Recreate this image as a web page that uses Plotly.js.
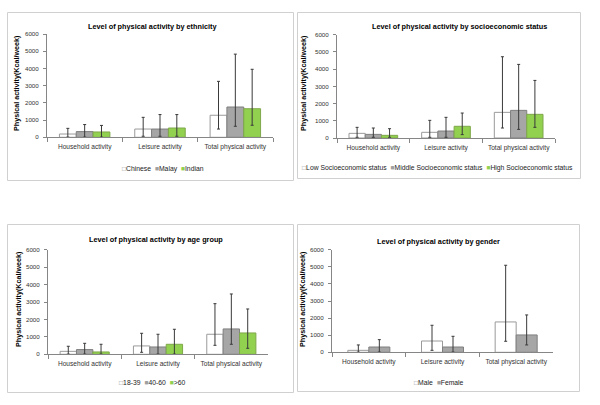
<!DOCTYPE html>
<html><head><meta charset="utf-8">
<script src="https://cdn.plot.ly/plotly-3.0.1.min.js"></script>
<style>html,body{margin:0;padding:0;background:#fff}</style>
</head><body><div id="chart" style="width:600px;height:405px"></div>
<script>
// ---------- data ----------
const categories = ["Household activity", "Leisure activity", "Total physical activity"];

// Panel 1: ethnicity
const ethnicityTitle = "Level of physical activity by ethnicity";
const ethnicityNames = ["Chinese", "Malay", "Indian"];
const chineseMean = [190, 480, 1280];
const chineseHigh = [520, 1160, 3250];
const chineseLow  = [10, 60, 480];
const malayMean = [330, 480, 1760];
const malayHigh = [740, 1320, 4830];
const malayLow  = [10, 60, 640];
const indianMean = [310, 540, 1660];
const indianHigh = [690, 1320, 3950];
const indianLow  = [10, 60, 700];

// Panel 2: socioeconomic status
const sesTitle = "Level of physical activity by socioeconomic status";
const sesNames = ["Low Socioeconomic status", "Middle Socioeconomic status", "High Socioeconomic status"];
const lowSesMean = [270, 330, 1490];
const lowSesHigh = [620, 1025, 4720];
const lowSesLow  = [40, 40, 580];
const midSesMean = [210, 405, 1605];
const midSesHigh = [580, 1200, 4275];
const midSesLow  = [40, 40, 500];
const highSesMean = [155, 680, 1375];
const highSesHigh = [540, 1450, 3345];
const highSesLow  = [40, 195, 620];

// Panel 3: age group
const ageTitle = "Level of physical activity by age group";
const ageNames = ["18-39", "40-60", ">60"];
const age1839Mean = [170, 480, 1150];
const age1839High = [460, 1205, 2905];
const age1839Low  = [10, 115, 515];
const age4060Mean = [270, 420, 1455];
const age4060High = [630, 1150, 3460];
const age4060Low  = [10, 10, 575];
const age60Mean = [135, 575, 1225];
const age60High = [575, 1435, 2600];
const age60Low  = [10, 10, 345];

// Panel 4: gender
const genderTitle = "Level of physical activity by gender";
const genderNames = ["Male", "Female"];
const maleMean = [115, 660, 1775];
const maleHigh = [430, 1580, 5090];
const maleLow  = [10, 115, 645];
const femaleMean = [310, 310, 1015];
const femaleHigh = [740, 935, 2185];
const femaleLow  = [10, 10, 430];

const yTitle = "Physical activity(Kcal/week)";

// ---------- styles ----------
const fills = ["#FFFFFF", "#A6A6A6", "#92D050"];
const edges = ["#9A9A9A", "#7F7F7F", "#7FA84A"];
const legendGlyphColors = ["#8C8C8C", "#A0A0A0", "#92D050"];
const legendGlyphs = ["\u25A1", "\u25A0", "\u25A0"];
const FONT = "Liberation Sans, Arial, sans-serif";

function bar(name, mean, high, low, idx, xa, ya, extra) {
  const t = {
    type: "bar", name: name, x: categories, y: mean,
    xaxis: xa, yaxis: ya, showlegend: false,
    marker: {color: fills[idx], line: {color: edges[idx], width: 1}},
    error_y: {
      type: "data", symmetric: false,
      array: mean.map((v, i) => high[i] - v),
      arrayminus: mean.map((v, i) => v - low[i]),
      color: "#3A3A3A", thickness: 1, width: 1.5
    },
    hoverinfo: "skip"
  };
  return Object.assign(t, extra || {});
}

const traces = [
  bar(ethnicityNames[0], chineseMean, chineseHigh, chineseLow, 0, "x", "y"),
  bar(ethnicityNames[1], malayMean, malayHigh, malayLow, 1, "x", "y"),
  bar(ethnicityNames[2], indianMean, indianHigh, indianLow, 2, "x", "y"),
  bar(sesNames[0], lowSesMean, lowSesHigh, lowSesLow, 0, "x2", "y2"),
  bar(sesNames[1], midSesMean, midSesHigh, midSesLow, 1, "x2", "y2"),
  bar(sesNames[2], highSesMean, highSesHigh, highSesLow, 2, "x2", "y2"),
  bar(ageNames[0], age1839Mean, age1839High, age1839Low, 0, "x3", "y3"),
  bar(ageNames[1], age4060Mean, age4060High, age4060Low, 1, "x3", "y3"),
  bar(ageNames[2], age60Mean, age60High, age60Low, 2, "x3", "y3"),
  bar(genderNames[0], maleMean, maleHigh, maleLow, 0, "x4", "y4", {width: 0.285, offset: -0.285}),
  bar(genderNames[1], femaleMean, femaleHigh, femaleLow, 1, "x4", "y4", {width: 0.285, offset: 0})
];

const W = 600, H = 405;
const px = v => v / W;
const py = v => 1 - v / H;

function xAxis(l, r) {
  return {
    domain: [px(l), px(r)], type: "category", range: [-0.5, 2.5],
    showgrid: false, zeroline: false, showline: true, linecolor: "#868686", linewidth: 1,
    ticks: "outside", tickson: "boundaries", ticklen: 4, tickcolor: "#868686",
    tickfont: {family: FONT, size: 6.6, color: "#333333"}, ticklabelstandoff: 3,
    fixedrange: true
  };
}
function yAxis(top, bottom, anchor) {
  return {
    domain: [py(bottom), py(top)], range: [0, 6000], dtick: 1000, tick0: 0, anchor: anchor,
    showgrid: false, zeroline: false, showline: true, linecolor: "#868686", linewidth: 1,
    ticks: "outside", ticklen: 3, tickcolor: "#868686",
    tickfont: {family: FONT, size: 6.2, color: "#333333"}, ticklabelstandoff: 3,
    fixedrange: true
  };
}

function legendText(names) {
  return names.map((n, i) =>
    '<span style="color:' + legendGlyphColors[i] + '">' + legendGlyphs[i] + '</span>' + n
  ).join("\u00a0\u00a0");
}

function ann(text, x, y, opts) {
  return Object.assign({
    text: text, xref: "paper", yref: "paper", x: px(x), y: py(y),
    xanchor: "center", yanchor: "middle", showarrow: false,
    font: {family: FONT, size: 7.3, color: "#000000"}
  }, opts || {});
}
const bold = s => "<b>" + s + "</b>";
const legFont = {family: FONT, size: 6.8, color: "#222222"};
const yTitleFont = {family: FONT, size: 7.2, color: "#000000"};

const annotations = [
  ann(bold(ethnicityTitle), 152, 27),
  ann(bold(sesTitle), 459, 27),
  ann(bold(ageTitle), 156, 239),
  ann(bold(genderTitle), 438, 241),
  ann(bold(yTitle), 16, 83, {textangle: -90, font: yTitleFont}),
  ann(bold(yTitle), 303, 83, {textangle: -90, font: yTitleFont}),
  ann(bold(yTitle), 18, 299, {textangle: -90, font: yTitleFont}),
  ann(bold(yTitle), 302, 299, {textangle: -90, font: yTitleFont}),
  ann(legendText(ethnicityNames), 163, 169, {font: legFont}),
  ann(legendText(sesNames), 437, 168, {font: legFont}),
  ann(legendText(ageNames), 152, 382, {font: legFont}),
  ann(legendText(genderNames), 439, 382, {font: legFont})
];

function box(x0, y0, x1, y1) {
  return {type: "rect", xref: "paper", yref: "paper",
    x0: px(x0), x1: px(x1), y0: py(y1), y1: py(y0),
    line: {color: "#D0D0D0", width: 1}, fillcolor: "rgba(0,0,0,0)", layer: "below"};
}

const layout = {
  width: W, height: H, margin: {l: 0, r: 0, t: 0, b: 0},
  paper_bgcolor: "#FFFFFF", plot_bgcolor: "rgba(0,0,0,0)",
  barmode: "group", bargap: 0.33, bargroupgap: 0,
  showlegend: false,
  font: {family: FONT, size: 7, color: "#333333"},
  xaxis: Object.assign(xAxis(47, 273), {anchor: "y"}),
  yaxis: yAxis(34, 137.3, "x"),
  xaxis2: Object.assign(xAxis(337, 555), {anchor: "y2"}),
  yaxis2: yAxis(34.7, 138, "x2"),
  xaxis3: Object.assign(xAxis(48, 268), {anchor: "y3"}),
  yaxis3: yAxis(249.7, 354.3, "x3"),
  xaxis4: Object.assign(xAxis(332, 553), {anchor: "y4"}),
  yaxis4: yAxis(249.7, 352.3, "x4"),
  annotations: annotations,
  shapes: [box(7.5, 12.5, 293.5, 180.5), box(297.5, 12.5, 580.5, 178.5),
           box(7.5, 224.5, 293.5, 392.5), box(297.5, 224.5, 579.5, 391.5)]
};

Plotly.newPlot("chart", traces, layout, {staticPlot: true, displayModeBar: false});
</script>
</body></html>
